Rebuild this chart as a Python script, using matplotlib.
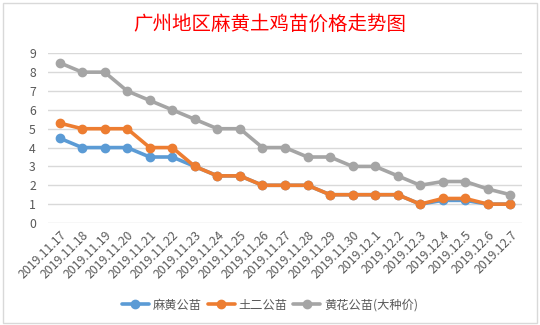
import matplotlib
matplotlib.use("Agg")
import matplotlib.pyplot as plt
from matplotlib.patches import Rectangle

plt.rcParams['font.family'] = ['Noto Sans CJK SC', 'DejaVu Sans']

dates = ["2019.11.17", "2019.11.18", "2019.11.19", "2019.11.20", "2019.11.21",
         "2019.11.22", "2019.11.23", "2019.11.24", "2019.11.25", "2019.11.26",
         "2019.11.27", "2019.11.28", "2019.11.29", "2019.11.30", "2019.12.1",
         "2019.12.2", "2019.12.3", "2019.12.4", "2019.12.5", "2019.12.6", "2019.12.7"]
mahuang = [4.5, 4, 4, 4, 3.5, 3.5, 3, 2.5, 2.5, 2, 2, 2, 1.5, 1.5, 1.5, 1.5, 1, 1.2, 1.2, 1, 1]
tuer = [5.3, 5, 5, 5, 4, 4, 3, 2.5, 2.5, 2, 2, 2, 1.5, 1.5, 1.5, 1.5, 1, 1.3, 1.3, 1, 1]
huanghua = [8.5, 8, 8, 7, 6.5, 6, 5.5, 5, 5, 4, 4, 3.5, 3.5, 3, 3, 2.5, 2, 2.2, 2.2, 1.8, 1.5]
series_names = ["麻黄公苗", "土二公苗", "黄花公苗(大种价)"]
colors = ["#5B9BD5", "#ED7D31", "#A5A5A5"]
title = "广州地区麻黄土鸡苗价格走势图"

fig = plt.figure(figsize=(5.4, 3.25), dpi=100)
fig.patch.set_facecolor("white")
fig.patches.append(Rectangle((3/540, 2/325), 534/540, 320/325, transform=fig.transFigure,
                             fill=False, edgecolor="#D9D9D9", linewidth=1))

ax = fig.add_axes([48.3/540, 1 - 223/325, (521.7 - 48.3)/540, (223 - 53.3)/325])
x = list(range(len(dates)))
for vals, name, c in zip([mahuang, tuer, huanghua], series_names, colors):
    ax.plot(x, vals, color=c, linewidth=2.6, marker='o', markersize=6,
            markerfacecolor=c, markeredgecolor=c, label=name, solid_capstyle='round')

ax.set_xlim(-0.5, len(dates) - 0.5)
ax.set_ylim(0, 9)
ax.set_yticks(range(0, 10))
ax.yaxis.grid(True, color="#D9D9D9", linewidth=1)
ax.set_axisbelow(True)
for s in ax.spines.values():
    s.set_visible(False)
ax.tick_params(axis='both', length=0, colors="#595959", labelsize=8.8)
ax.tick_params(axis='y', pad=9)
ax.set_xticks(x)
ax.set_xticklabels(dates, rotation=45, ha='right', va='top', rotation_mode='anchor')
ax.tick_params(axis='x', pad=4)

fig.text(0.5, 1 - 24/325, title, color="#FF0000", fontsize=14, ha='center', va='center')

leg = fig.legend(loc='center', bbox_to_anchor=(0.5, 1 - 305/325), ncol=3, frameon=False,
                 fontsize=8.8, handlelength=2.2, columnspacing=0.5, handletextpad=0.3,
                 labelcolor="#595959")

fig.savefig("out.png", dpi=100)
